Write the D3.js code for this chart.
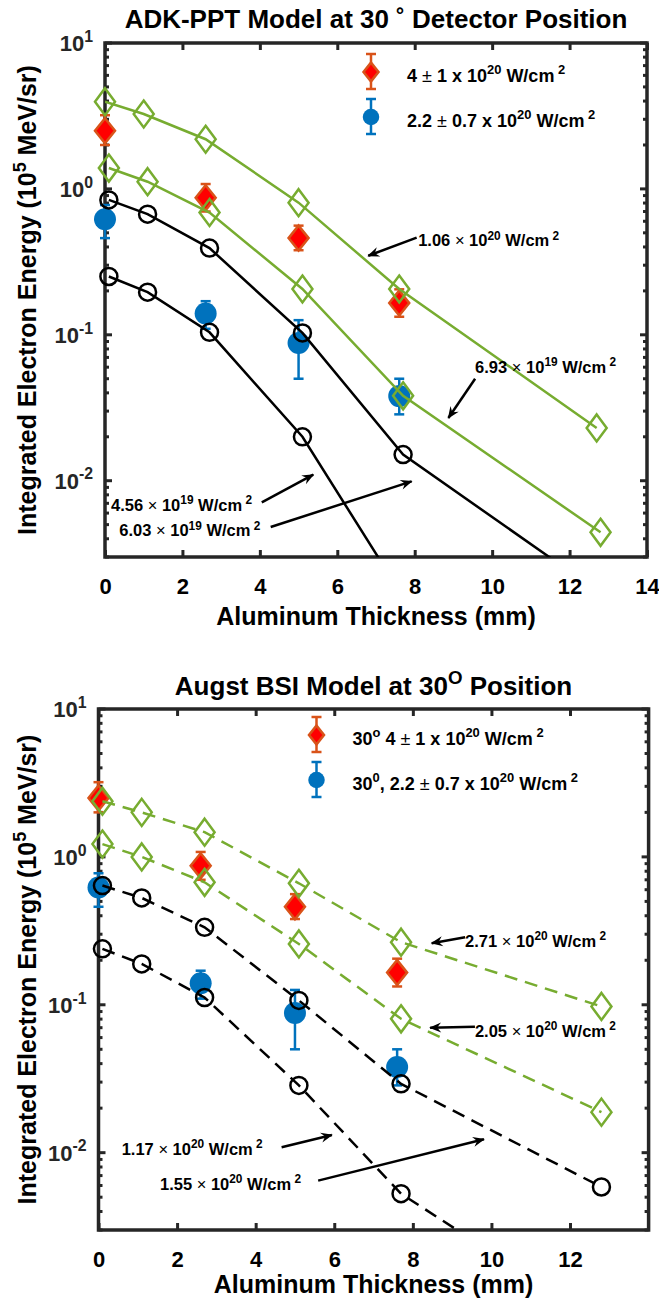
<!DOCTYPE html>
<html><head><meta charset="utf-8">
<script src="https://cdn.jsdelivr.net/npm/d3@7"></script>
<style>
body{margin:0;background:#fff}
svg{display:block}
text{font-family:"Liberation Sans",Arial,sans-serif;font-weight:bold;fill:#000}
</style>
</head><body><svg id="fig" width="659" height="1301"></svg>
<script>
// ---- measured electron energy (10^5 MeV/sr) vs aluminium thickness (mm) ----
const thicknessExp = [0, 2.6, 5.0, 7.6];
const highVals = [2.5, 0.87, 0.46, 0.165];     // 4 ± 1 × 10^20 W/cm^2
const highLow  = [2.0, 0.70, 0.38, 0.133];
const highUp   = [3.2, 1.08, 0.56, 0.205];
const lowVals  = [0.62, 0.14, 0.088, 0.038];   // 2.2 ± 0.7 × 10^20 W/cm^2
const lowLow   = [0.46, 0.11, 0.05, 0.0285];
const lowUp    = [0.775, 0.17, 0.126, 0.05];

// ---- model thickness grids ----
const thicknessModel      = [0, 1.0, 2.6, 5.0, 7.6, 12.7];
const thicknessModelShift = [0.1, 1.1, 2.7, 5.1, 7.7, 12.8];

// ---- ADK-PPT model curves ----
const adk_1_06e20 = [3.96, 3.26, 2.19, 0.805, 0.206, 0.0230];
const adk_6_93e19 = [1.39, 1.12, 0.689, 0.206, 0.0382, 0.00443];
const adk_6_03e19 = [0.841, 0.671, 0.393, 0.103, 0.0151, 0.0017];
const adk_4_56e19 = [0.251, 0.196, 0.104, 0.0200, 0.0016];

// ---- Augst BSI model curves ----
const bsi_2_71e20 = [2.38, 2.00, 1.47, 0.663, 0.265, 0.0974];
const bsi_2_05e20 = [1.22, 1.00, 0.673, 0.258, 0.0804, 0.0188];
const bsi_1_55e20 = [0.640, 0.528, 0.334, 0.107, 0.0292, 0.00586];
const bsi_1_17e20 = [0.239, 0.189, 0.112, 0.0285, 0.00528, 0.0007];

// ---- ticks ----
const xTicksTop = [0, 2, 4, 6, 8, 10, 12, 14];
const xTicksBottom = [0, 2, 4, 6, 8, 10, 12];
const yTickExps = [-2, -1, 0, 1];

const GREEN = "#77AC30", RED_EDGE = "#D95319", RED_FILL = "#FF0000", BLUE = "#0072BD", AXIS = "#262626";

const svg = d3.select("#fig");
const defs = svg.append("defs");
defs.append("marker").attr("id", "arrowhead")
  .attr("viewBox", "-12 -6 14 12").attr("markerWidth", 14).attr("markerHeight", 12)
  .attr("markerUnits", "userSpaceOnUse").attr("refX", 0).attr("refY", 0).attr("orient", "auto")
  .append("path").attr("d", "M1,0 L-11,-5 L-7,0 L-11,5 Z").attr("fill", "#000");

// text with tex-like superscripts
function rich(sel, x, y, parts, size, anchor) {
  const t = sel.append("text").attr("x", x).attr("y", y).attr("font-size", size)
    .attr("text-anchor", anchor || "start");
  let up = false;
  const rise = size * 0.42;
  parts.forEach(p => {
    const ts = t.append("tspan").text(p.t);
    if (p.sup) {
      ts.attr("font-size", size * 0.72);
      if (!up) { ts.attr("dy", -rise); up = true; }
    } else if (up) { ts.attr("dy", rise); up = false; }
    if (p.normal) ts.attr("font-weight", "normal");
  });
  return t;
}
function intensity(mant, exp) {
  return [{t: mant + " "}, {t: "\u00d7", normal: true}, {t: " 10"}, {t: exp, sup: true}, {t: " W/cm"}, {t: " 2", sup: true}];
}
const diamond = (hw, hh) => `M0,${-hh} L${hw},0 L0,${hh} L${-hw},0 Z`;

function drawPanel(cfg) {
  const x = d3.scaleLinear().domain([0, 14]).range([cfg.left, cfg.right]);
  const y = d3.scaleLog().domain([0.003, 10]).range([cfg.bottom, cfg.top]);
  const g = svg.append("g");
  const [y0, y1] = y.domain();

  // axes box
  g.append("rect").attr("x", cfg.left).attr("y", cfg.top)
    .attr("width", cfg.right - cfg.left).attr("height", cfg.bottom - cfg.top)
    .attr("fill", "none").attr("stroke", AXIS).attr("stroke-width", 3.5);

  // x ticks (inside, top and bottom)
  const xAxisB = d3.axisBottom(x).tickValues(cfg.xTicks).tickSize(-7).tickFormat(d3.format("d")).tickPadding(21);
  const xb = g.append("g").attr("transform", `translate(0,${cfg.bottom})`).call(xAxisB);
  const xAxisT = d3.axisTop(x).tickValues(cfg.xTicks).tickSize(-7).tickFormat("");
  const xt = g.append("g").attr("transform", `translate(0,${cfg.top})`).call(xAxisT);
  [xb, xt].forEach(a => {
    a.select(".domain").remove();
    a.selectAll(".tick line").attr("stroke", AXIS).attr("stroke-width", 3);
  });
  xb.selectAll(".tick text").attr("font-size", 22).attr("fill", AXIS)
    .attr("font-family", '"Liberation Sans",Arial,sans-serif').attr("font-weight", "bold");

  // y ticks: majors + minors, left and right, inside
  const minors = [];
  for (let e = -3; e <= 0; e++) for (let m = 2; m <= 9; m++) {
    const v = m * Math.pow(10, e);
    if (v >= y0 && v <= y1) minors.push(v);
  }
  const majors = yTickExps.map(e => Math.pow(10, e));
  [[cfg.left, 1], [cfg.right, -1]].forEach(([px, dir]) => {
    g.selectAll(null).data(minors).enter().append("line")
      .attr("x1", px).attr("x2", px + dir * 4).attr("y1", d => y(d)).attr("y2", d => y(d))
      .attr("stroke", AXIS).attr("stroke-width", 3);
    g.selectAll(null).data(majors).enter().append("line")
      .attr("x1", px).attr("x2", px + dir * 7).attr("y1", d => y(d)).attr("y2", d => y(d))
      .attr("stroke", AXIS).attr("stroke-width", 3);
  });
  yTickExps.forEach(e => {
    const t = rich(g, cfg.left - 12, y(Math.pow(10, e)) + 8, [{t: "10"}, {t: String(e), sup: true}], 22, "end");
    t.attr("fill", AXIS).selectAll("tspan").attr("fill", AXIS);
  });

  // labels
  rich(g, (cfg.left + cfg.right) / 2, cfg.titleY, cfg.title, 26, "middle");
  g.append("text").attr("x", (cfg.left + cfg.right) / 2).attr("y", cfg.xLabelY)
    .attr("text-anchor", "middle").attr("font-size", 25).attr("fill", AXIS).text("Aluminum Thickness (mm)");
  const yl = rich(g, 0, 0, [{t: "Integrated Electron Energy (10"}, {t: "5", sup: true}, {t: " MeV/sr)"}], 25, "middle");
  yl.attr("transform", `translate(36,${(cfg.top + cfg.bottom) / 2}) rotate(-90)`).attr("fill", AXIS);

  // clipping for lines
  const clipId = "clip" + cfg.id;
  defs.append("clipPath").attr("id", clipId).append("rect")
    .attr("x", cfg.left).attr("y", cfg.top).attr("width", cfg.right - cfg.left).attr("height", cfg.bottom - cfg.top);

  // measured points with error bars
  function errSeries(vals, lo, hi, color, drawMarker) {
    const s = g.append("g");
    thicknessExp.forEach((t, i) => {
      const cx = x(t);
      s.append("line").attr("x1", cx).attr("x2", cx).attr("y1", y(lo[i])).attr("y2", y(hi[i]))
        .attr("stroke", color).attr("stroke-width", 2.5);
      [lo[i], hi[i]].forEach(v => s.append("line").attr("x1", cx - 5).attr("x2", cx + 5)
        .attr("y1", y(v)).attr("y2", y(v)).attr("stroke", color).attr("stroke-width", 2.5));
      drawMarker(s, cx, y(vals[i]));
    });
  }
  const redMarker = (s, cx, cy, sc = 1) => s.append("path").attr("d", diamond(10 * sc, 12.5 * sc))
    .attr("transform", `translate(${cx},${cy})`).attr("fill", RED_FILL).attr("stroke", RED_EDGE).attr("stroke-width", 2.5);
  const blueMarker = (s, cx, cy, sc = 1) => s.append("circle").attr("cx", cx).attr("cy", cy).attr("r", 11 * sc)
    .attr("fill", BLUE);
  errSeries(highVals, highLow, highUp, RED_EDGE, redMarker);
  errSeries(lowVals, lowLow, lowUp, BLUE, blueMarker);

  // model curves
  cfg.models.forEach(m => {
    const pts = m.vals.map((v, i) => [m.xs[i], v]);
    const line = d3.line().x(d => x(d[0])).y(d => y(d[1]));
    g.append("path").attr("d", line(pts)).attr("fill", "none").attr("stroke", m.color)
      .attr("stroke-width", 2.5).attr("clip-path", `url(#${clipId})`)
      .attr("stroke-dasharray", cfg.dashed ? "13,8" : null);
    pts.filter(d => d[1] >= y0 && d[1] <= y1).forEach(d => {
      if (m.marker === "diamond") {
        g.append("path").attr("d", diamond(10, 13.5)).attr("transform", `translate(${x(d[0])},${y(d[1])})`)
          .attr("fill", "none").attr("stroke", m.color).attr("stroke-width", 2.5);
      } else {
        g.append("circle").attr("cx", x(d[0])).attr("cy", y(d[1])).attr("r", 8.5)
          .attr("fill", "none").attr("stroke", m.color).attr("stroke-width", 2.5);
      }
    });
  });

  // annotations
  cfg.notes.forEach(n => {
    g.append("line").attr("x1", x(n.tail[0])).attr("y1", y(n.tail[1]))
      .attr("x2", x(n.head[0])).attr("y2", y(n.head[1]))
      .attr("stroke", "#000").attr("stroke-width", 2.5).attr("marker-end", "url(#arrowhead)");
    rich(g, x(n.at[0]), y(n.at[1]), intensity(n.mant, n.exp), 16.5, "start");
  });

  // legend
  const L = cfg.legend;
  const lg = g.append("g");
  const mx = cfg.left + L.dx;
  [[L.dy1, RED_EDGE, redMarker, L.text1], [L.dy2, BLUE, blueMarker, L.text2]].forEach(([dy, col, mk, txt]) => {
    const cy = cfg.top + dy;
    lg.append("line").attr("x1", mx).attr("x2", mx).attr("y1", cy - 18).attr("y2", cy + 17)
      .attr("stroke", col).attr("stroke-width", 2.5);
    [cy - 18, cy + 17].forEach(v => lg.append("line").attr("x1", mx - 5).attr("x2", mx + 5)
      .attr("y1", v).attr("y2", v).attr("stroke", col).attr("stroke-width", 2.5));
    mk(lg, mx, cy, 0.75);
    rich(lg, mx + 36, cy + 9.5, txt, 18, "start");
  });
}

const legendHigh = [{t: "4 "}, {t: "\u00b1", normal: true}, {t: " 1 x 10"}, {t: "20", sup: true}, {t: " W/cm"}, {t: " 2", sup: true}];
const legendLow = [{t: "2.2 "}, {t: "\u00b1", normal: true}, {t: " 0.7 x 10"}, {t: "20", sup: true}, {t: " W/cm"}, {t: " 2", sup: true}];

drawPanel({
  id: "adk", left: 105, right: 647, top: 43, bottom: 557,
  xTicks: xTicksTop, titleY: 28, xLabelY: 625, dashed: false,
  title: [{t: "ADK-PPT Model at 30 \u02da Detector Position"}],
  models: [
    {xs: thicknessModel, vals: adk_1_06e20, color: GREEN, marker: "diamond"},
    {xs: thicknessModelShift, vals: adk_6_93e19, color: GREEN, marker: "diamond"},
    {xs: thicknessModelShift, vals: adk_6_03e19, color: "#000", marker: "circle"},
    {xs: thicknessModelShift, vals: adk_4_56e19, color: "#000", marker: "circle"}
  ],
  notes: [
    {mant: "1.06", exp: "20", at: [8.09, 0.403], tail: [8.05, 0.464], head: [6.80, 0.348]},
    {mant: "6.93", exp: "19", at: [9.56, 0.0547], tail: [9.56, 0.050], head: [8.87, 0.0269]},
    {mant: "4.56", exp: "19", at: [0.155, 0.00616], tail: [4.05, 0.0071], head: [5.38, 0.0110]},
    {mant: "6.03", exp: "19", at: [0.37, 0.00415], tail: [4.28, 0.00482], head: [7.92, 0.00989]}
  ],
  legend: {dx: 266, dy1: 29, dy2: 74, text1: legendHigh, text2: legendLow}
});

drawPanel({
  id: "bsi", left: 98.5, right: 648.6, top: 709, bottom: 1230,
  xTicks: xTicksBottom, titleY: 695, xLabelY: 1293, dashed: true,
  title: [{t: "Augst BSI Model at 30"}, {t: "O", sup: true}, {t: " Position"}],
  models: [
    {xs: thicknessModelShift, vals: bsi_2_71e20, color: GREEN, marker: "diamond"},
    {xs: thicknessModelShift, vals: bsi_2_05e20, color: GREEN, marker: "diamond"},
    {xs: thicknessModelShift, vals: bsi_1_55e20, color: "#000", marker: "circle"},
    {xs: thicknessModelShift, vals: bsi_1_17e20, color: "#000", marker: "circle"}
  ],
  notes: [
    {mant: "2.71", exp: "20", at: [9.33, 0.247], tail: [9.33, 0.286], head: [8.48, 0.261]},
    {mant: "2.05", exp: "20", at: [9.58, 0.0608], tail: [9.58, 0.0711], head: [8.44, 0.0700]},
    {mant: "1.17", exp: "20", at: [0.59, 0.00964], tail: [4.66, 0.01087], head: [5.94, 0.01318]},
    {mant: "1.55", exp: "20", at: [1.565, 0.0056], tail: [5.59, 0.00647], head: [9.81, 0.01233]}
  ],
  legend: {dx: 218, dy1: 26, dy2: 71,
    text1: [{t: "30"}, {t: "o", sup: true}, {t: " 4 "}, {t: "\u00b1", normal: true}, {t: " 1 x 10"}, {t: "20", sup: true}, {t: " W/cm"}, {t: " 2", sup: true}],
    text2: [{t: "30"}, {t: "0", sup: true}, {t: ", 2.2 "}, {t: "\u00b1", normal: true}, {t: " 0.7 x 10"}, {t: "20", sup: true}, {t: " W/cm"}, {t: " 2", sup: true}]}
});
</script></body></html>
